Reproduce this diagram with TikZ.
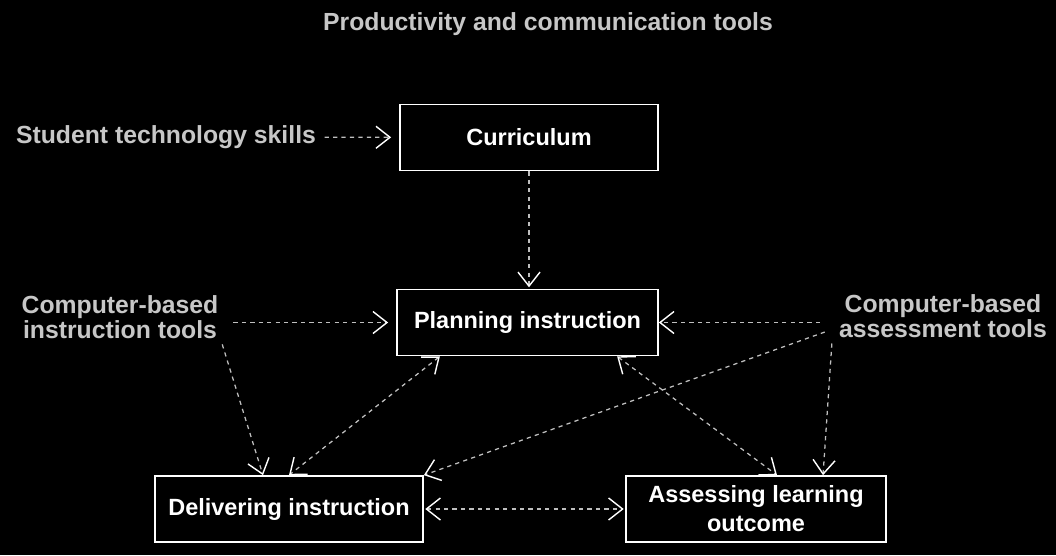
\documentclass[tikz,border=0pt]{standalone}
\usepackage{fontspec}
\setmainfont{Liberation Sans}
\usetikzlibrary{arrows.meta}

\tikzset{
  box/.style={draw=white,line width=1.2pt,text=white,align=center,
    font=\bfseries\fontsize{16.7}{20.5}\selectfont,minimum height=1.65cm,inner sep=0pt},
  tool/.style={text=white!78!black,align=center,inner sep=2pt,
    font=\bfseries\fontsize{17.6}{17.8}\selectfont},
  link/.style={draw=white!75!black,line width=0.9pt,dashed,-{Straight Barb[length=0.35cm,width=0.55cm,color=white,line width=1pt]}},
  both/.style={link,{Straight Barb[length=0.35cm,width=0.55cm,color=white,line width=1pt]}-{Straight Barb[length=0.35cm,width=0.55cm,color=white,line width=1pt]}}
}

\begin{document}
\begin{tikzpicture}[x=0.025cm,y=-0.025cm]
  \fill[black] (0,0) rectangle (1056,555);

  % tools round the outside
  \node[tool] (prod) at (548,24) {Productivity and communication tools};
  \node[tool] (skills) at (166,137) {Student technology skills};
  \node[tool] (instr) at (120,317) {Computer-based\\instruction tools};
  \node[tool] (asst) at (943,316) {Computer-based\\assessment tools};

  % the four stages
  \node[box,minimum width=6.45cm] (cur) at (529,137.5) {Curriculum};
  \node[box,minimum width=6.525cm] (plan) at (527.5,322.5) {Planning instruction};
  \node[box,minimum width=6.7cm] (deliv) at (289,509) {Delivering instruction};
  \node[box,minimum width=6.5cm] (assess) at (756,509) {Assessing learning\\outcome};

  \draw[link,shorten <=4pt,shorten >=0.2cm] (skills) -- (cur);
  \draw[link,shorten >=1pt] (cur.south) -- (cur.south |- plan.north);
  \draw[link,shorten <=0.3cm,shorten >=0.2cm] (instr.east |- plan.west) -- (plan.west);
  \draw[link,shorten <=0.4cm] (asst.west |- plan.east) -- (plan.east);
  \draw[link,shorten <=2pt] (instr.south east) -- ([xshift=-0.65cm]deliv.north);
  \draw[link,shorten <=0.3cm] ([yshift=-0.3cm]asst.west) -- (deliv.north east);
  \draw[link,shorten <=2pt] ([xshift=-0.1cm]asst.south west) -- ([xshift=1.675cm]assess.north);

  % between the stages
  \draw[both] ([xshift=-2.19cm]plan.south) -- (deliv.north);
  \draw[both] ([xshift=2.24cm]plan.south) -- ([xshift=0.525cm]assess.north);
  \draw[both,shorten <=1pt,shorten >=1pt] (deliv.east) -- (assess.west);
\end{tikzpicture}
\end{document}
